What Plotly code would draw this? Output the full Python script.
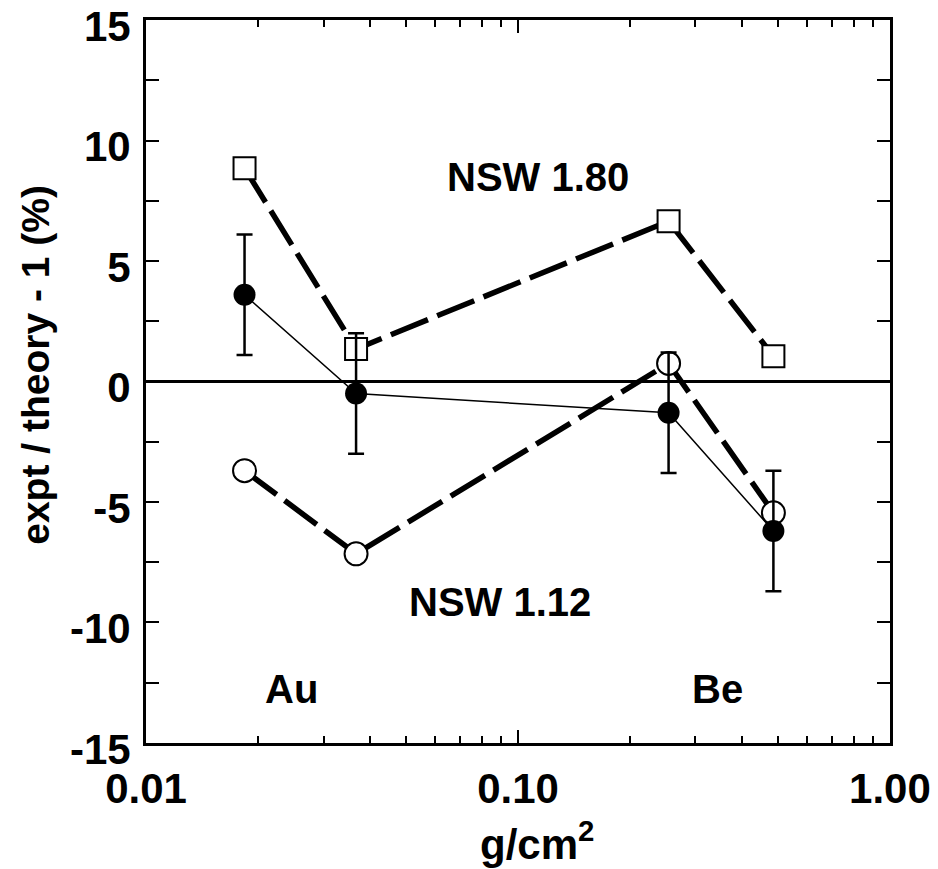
import plotly.graph_objects as go

# Areal density of the target (g/cm^2)
density = [0.0184, 0.0367, 0.254, 0.486]

# Measured deviation from theory (%) with uncertainties
expt_dev = [3.6, -0.5, -1.3, -6.2]
expt_err = [2.5, 2.5, 2.5, 2.5]

# Predictions for two parameter sets
nsw_180 = [8.85, 1.35, 6.65, 1.05]
nsw_112 = [-3.7, -7.15, 0.75, -5.45]

x_tick_vals = [0.01, 0.1, 1.0]
x_tick_text = ["0.01", "0.10", "1.00"]
x_minor_vals = [0.02, 0.03, 0.04, 0.05, 0.06, 0.07, 0.08, 0.09,
                0.2, 0.3, 0.4, 0.5, 0.6, 0.7, 0.8, 0.9]
y_tick_vals = [-15, -10, -5, 0, 5, 10, 15]
y_tick_text = ["-15", "-10", "-5", "0", "5", "10", "15"]

FONT = "Liberation Sans, Arial, sans-serif"

fig = go.Figure()

fig.add_trace(go.Scatter(
    x=density, y=nsw_180, mode="lines+markers",
    line=dict(color="black", width=5.5, dash="40px,10px"),
    marker=dict(symbol="square", size=22, color="white",
                line=dict(color="black", width=2)),
    showlegend=False,
))

fig.add_trace(go.Scatter(
    x=density, y=nsw_112, mode="lines+markers",
    line=dict(color="black", width=5.5, dash="40px,10px"),
    marker=dict(symbol="circle", size=23, color="white",
                line=dict(color="black", width=2)),
    showlegend=False,
))

fig.add_trace(go.Scatter(
    x=density, y=expt_dev, mode="lines+markers",
    line=dict(color="black", width=1.5),
    marker=dict(symbol="circle", size=22, color="black"),
    error_y=dict(type="data", array=expt_err, visible=True,
                 color="black", thickness=2.5, width=8),
    showlegend=False,
))

axis_font = dict(family=FONT, size=42, color="black", weight="bold")

fig.update_xaxes(
    type="log", range=[-2.0001, 0.0001],
    tickvals=x_tick_vals, ticktext=x_tick_text,
    ticks="inside", ticklen=13, tickwidth=1.5, tickcolor="black",
    minor=dict(tickvals=x_minor_vals, ticks="inside", ticklen=7,
               tickwidth=1.5, tickcolor="black", showgrid=False),
    showline=True, linewidth=3, linecolor="black", mirror="ticks",
    showgrid=False, zeroline=False, automargin=False,
    tickfont=axis_font, ticklabelstandoff=7, ticklabeloverflow="allow",
)

fig.update_yaxes(
    range=[-15.001, 15.001],
    tickvals=y_tick_vals, ticktext=y_tick_text,
    ticks="inside", ticklen=13, tickwidth=1.5, tickcolor="black",
    minor=dict(dtick=2.5, ticks="inside", ticklen=13,
               tickwidth=1.5, tickcolor="black", showgrid=False),
    showline=True, linewidth=3, linecolor="black", mirror="ticks",
    showgrid=False, automargin=False,
    zeroline=True, zerolinecolor="black", zerolinewidth=3,
    tickfont=axis_font, ticklabelstandoff=4, ticklabelshift=6,
    ticklabeloverflow="allow",
)

label_font = dict(family=FONT, size=40, color="black", weight="bold")

annotations = [
    dict(text="NSW 1.80", x=-0.946, y=8.5, xref="x", yref="y",
         showarrow=False, font=label_font),
    dict(text="NSW 1.12", x=-1.049, y=-9.16, xref="x", yref="y",
         showarrow=False, font=label_font),
    dict(text="Au", x=-1.609, y=-12.76, xref="x", yref="y",
         showarrow=False, font=label_font),
    dict(text="Be", x=-0.464, y=-12.76, xref="x", yref="y",
         showarrow=False, font=label_font),
    dict(text="expt / theory - 1 (%)", x=-0.148, y=0.523,
         xref="paper", yref="paper", textangle=-90, showarrow=False,
         xanchor="center", yanchor="middle",
         font=dict(family=FONT, size=39, color="black", weight="bold")),
    dict(text="g/cm<sup>2</sup>", x=0.525, y=-0.136,
         xref="paper", yref="paper", showarrow=False,
         xanchor="center", yanchor="middle",
         font=dict(family=FONT, size=42, color="black", weight="bold")),
]

fig.update_layout(
    width=938, height=869,
    margin=dict(l=146, r=48, t=20, b=126),
    plot_bgcolor="white", paper_bgcolor="white",
    annotations=annotations,
)

fig.write_html("out.html")
